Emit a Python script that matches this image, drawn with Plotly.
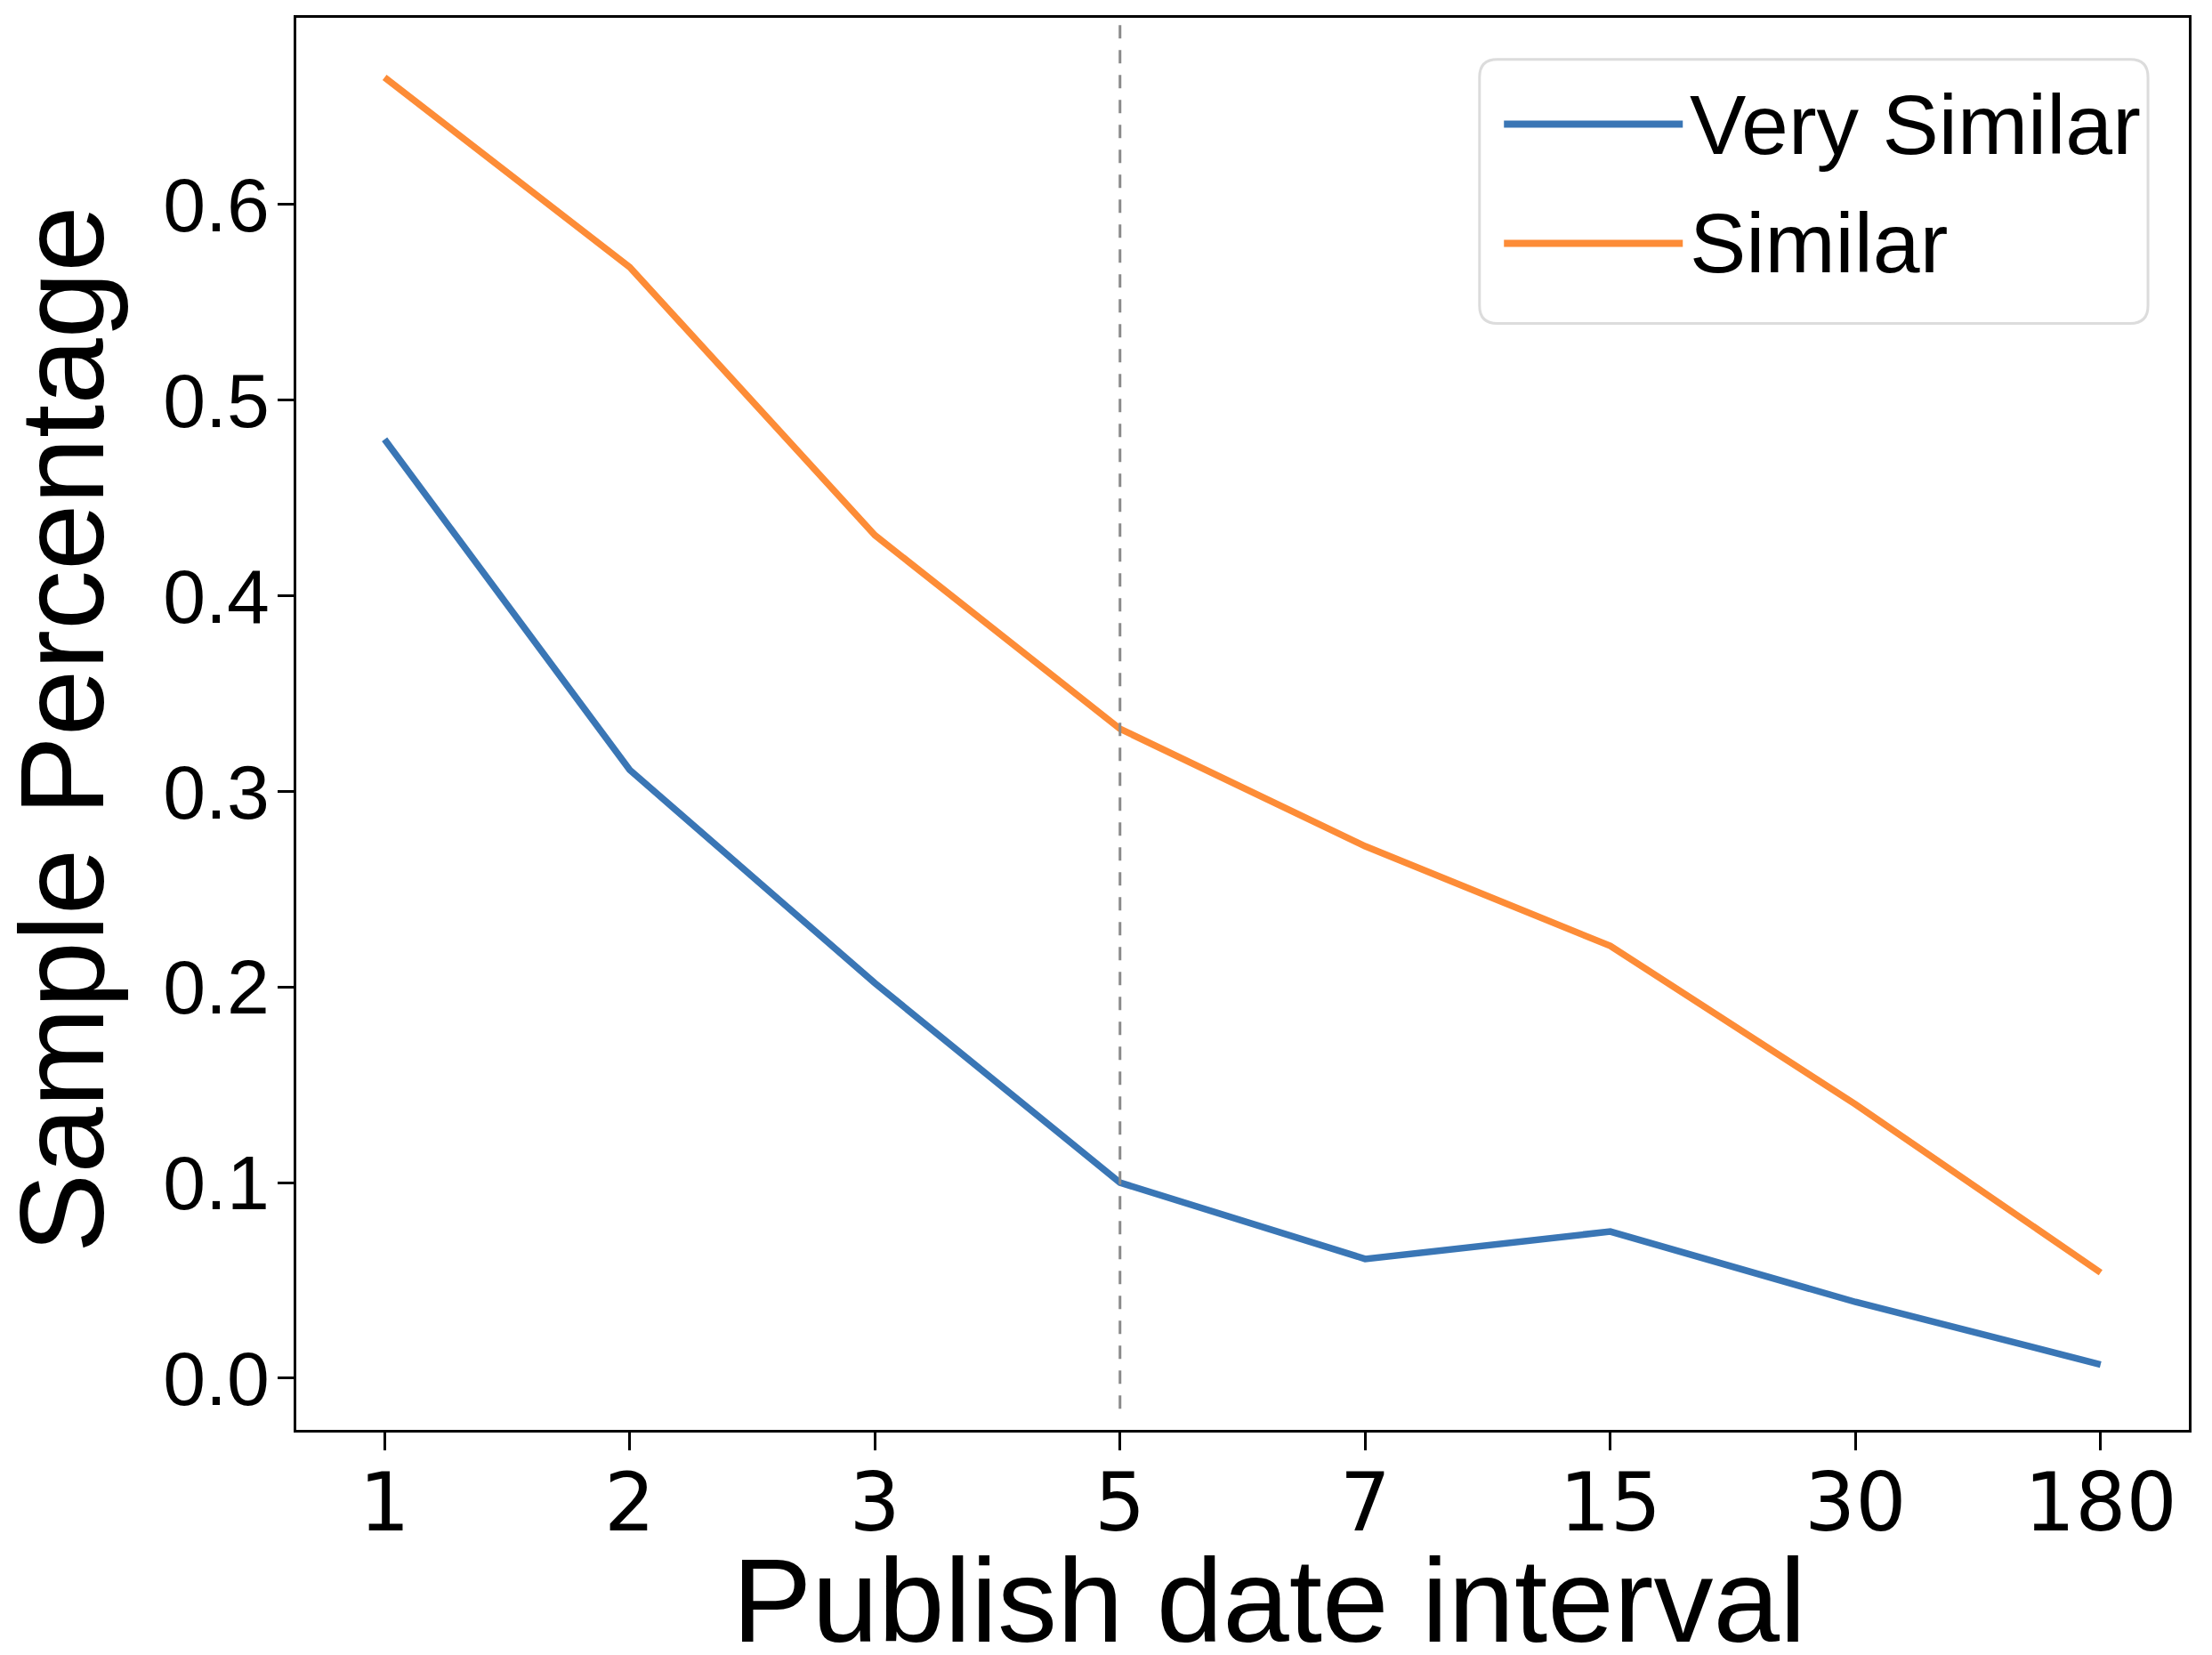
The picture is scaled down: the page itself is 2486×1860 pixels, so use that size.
import plotly.graph_objects as go

categories = ["1", "2", "3", "5", "7", "15", "30", "180"]
very_similar = [0.480, 0.311, 0.202, 0.100, 0.061, 0.075, 0.039, 0.007]
similar = [0.665, 0.568, 0.431, 0.332, 0.272, 0.221, 0.140, 0.054]
y_ticks = [0.0, 0.1, 0.2, 0.3, 0.4, 0.5, 0.6]
series_names = ["Very Similar", "Similar"]
series_colors = ["#3a76b5", "#fd8c37"]
marker_category = "5"
x_title = "Publish date interval"
y_title = "Sample Percentage"

fig = go.Figure()
for name, vals, col in zip(series_names, [very_similar, similar], series_colors):
    fig.add_trace(go.Scatter(x=categories, y=vals, mode="lines", name=name,
                             line=dict(color=col, width=7.5), showlegend=False))

xi = categories.index(marker_category)
fig.add_shape(type="line", xref="x", yref="y domain", x0=xi, x1=xi, y0=0.015, y1=1,
              line=dict(color="#8a8a8a", width=3, dash="15px,13px"))

# legend drawn manually (rounded box, long line samples)
bx0, bx1, by0, by1 = 0.6252, 0.9784, 0.7835, 0.9705
rx, ry = 0.0094, 0.0126
path = (f"M{bx0+rx},{by1} L{bx1-rx},{by1} Q{bx1},{by1} {bx1},{by1-ry} "
        f"L{bx1},{by0+ry} Q{bx1},{by0} {bx1-rx},{by0} L{bx0+rx},{by0} "
        f"Q{bx0},{by0} {bx0},{by0+ry} L{bx0},{by1-ry} Q{bx0},{by1} {bx0+rx},{by1} Z")
fig.add_shape(type="path", xref="paper", yref="paper", path=path,
              line=dict(color="#dcdcdc", width=3), fillcolor="rgba(255,255,255,0.85)")
leg_y = [0.9247, 0.8403]
for name, col, ly in zip(series_names, series_colors, leg_y):
    fig.add_shape(type="line", xref="paper", yref="paper", x0=0.6381, x1=0.7326,
                  y0=ly, y1=ly, line=dict(color=col, width=8))
    fig.add_annotation(xref="paper", yref="paper", x=0.7355, y=ly, text=name,
                       showarrow=False, xanchor="left", yanchor="middle",
                       font=dict(family="Liberation Sans, Arial", size=95, color="black"))

# axis titles
fig.add_annotation(xref="paper", yref="paper", x=0.514, y=-0.1204, text=x_title,
                   showarrow=False, xanchor="center", yanchor="middle",
                   font=dict(family="Liberation Sans, Arial", size=134, color="black"))
fig.add_annotation(xref="paper", yref="paper", x=-0.1235, y=0.496, text=y_title,
                   showarrow=False, xanchor="center", yanchor="middle", textangle=-90,
                   font=dict(family="Liberation Sans, Arial", size=134, color="black"))

# the page body adds an 8px offset, so the figure is sized/margined to compensate
fig.update_layout(
    width=2478, height=1852,
    margin=dict(l=325, r=26, t=12, b=253),
    paper_bgcolor="white", plot_bgcolor="white",
    xaxis=dict(type="category", range=[-0.36, 7.36], showgrid=False, zeroline=False,
               automargin=False,
               showline=True, mirror=True, linecolor="black", linewidth=3,
               ticks="outside", ticklen=20, tickwidth=3, tickcolor="black",
               ticklabelstandoff=-18,
               tickfont=dict(family="DejaVu Sans", size=90, color="black")),
    yaxis=dict(range=[-0.0264, 0.6955], showgrid=False, zeroline=False,
               automargin=False,
               showline=True, mirror=True, linecolor="black", linewidth=3,
               ticks="outside", ticklen=18, tickwidth=3, tickcolor="black",
               ticklabelstandoff=-8,
               tickvals=y_ticks, tickformat=".1f",
               tickfont=dict(family="Liberation Sans, Arial", size=86, color="black")),
)

fig.write_html("out.html")
